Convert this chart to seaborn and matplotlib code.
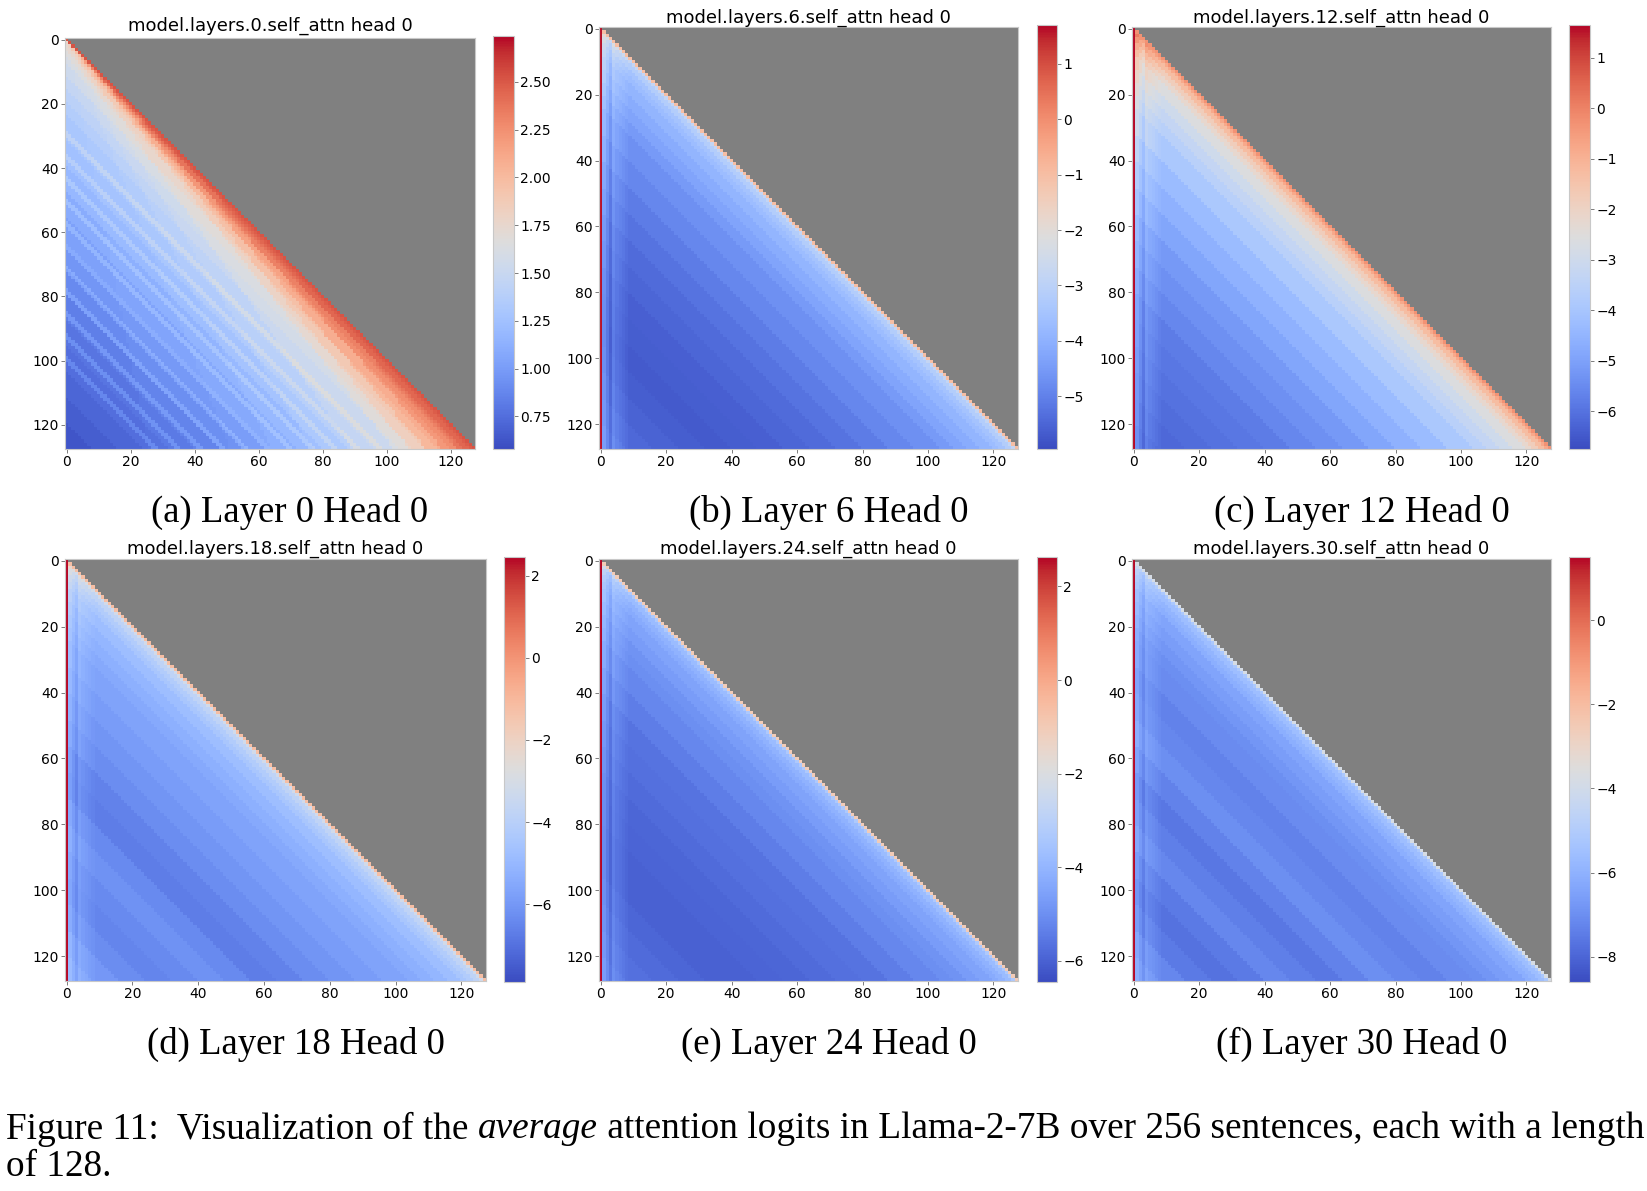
import numpy as np
import pandas as pd
import seaborn as sns
import matplotlib.pyplot as plt

SEQ_LEN = 128
layers = [0, 6, 12, 18, 24, 30]
letters = ['a', 'b', 'c', 'd', 'e', 'f']

# start of each query-key distance bin (row index minus column index)
dist_bins = [0, 1, 2, 4, 6, 8, 12, 16, 20, 24, 32, 40, 48, 56, 64, 72, 80, 88, 96, 104, 112, 120]

# average logit per distance bin
logits_l0 = [1.80, 1.76, 1.72, 1.66, 1.60, 1.54, 1.47, 1.41, 1.36, 1.30, 1.25,
             1.18, 1.10, 1.03, 0.96, 0.90, 0.84, 0.79, 0.75, 0.71, 0.67, 0.63]
logits_l6 = [-1.0, -2.8, -3.2, -3.5, -3.7, -3.9, -4.1, -4.3, -4.5, -4.7, -4.9,
             -5.1, -5.25, -5.4, -5.5, -5.6, -5.65, -5.7, -5.65, -5.55, -5.45, -5.35]
logits_l12 = [-0.3, -0.8, -1.3, -1.8, -2.2, -2.6, -3.0, -3.3, -3.6, -3.9, -4.3,
              -4.6, -4.9, -5.2, -5.4, -5.6, -5.8, -5.9, -6.0, -6.1, -6.2, -6.3]
logits_l18 = [-1.2, -3.2, -3.8, -4.2, -4.5, -4.8, -5.1, -5.3, -5.5, -5.7, -5.9,
              -6.1, -6.3, -6.6, -6.7, -6.4, -6.2, -6.4, -6.5, -6.3, -6.0, -5.8]
logits_l24 = [-1.0, -3.3, -3.8, -4.1, -4.3, -4.5, -4.7, -4.9, -5.0, -5.2, -5.4,
              -5.6, -5.7, -5.8, -5.9, -5.95, -6.0, -6.0, -5.9, -5.8, -5.7, -5.6]
logits_l30 = [-3.8, -5.2, -5.6, -5.9, -6.1, -6.4, -6.6, -6.8, -7.0, -7.1, -7.3,
              -7.2, -7.0, -7.3, -7.6, -7.4, -7.2, -7.5, -7.7, -7.5, -7.2, -7.0]
profiles = [logits_l0, logits_l6, logits_l12, logits_l18, logits_l24, logits_l30]

# layer 0: extra logit by relative distance (distance / query position)
rel_bins = [0, 0.04, 0.08, 0.12, 0.16, 0.2, 0.3, 0.4, 0.5, 0.6, 0.8]
rel_boost_l0 = [0.72, 0.66, 0.55, 0.42, 0.32, 0.22, 0.14, 0.09, 0.05, 0.02, 0.0]
# layer 0: distances of the light diagonal stripes
stripe_dist_l0 = [29, 30, 36, 37, 43, 44, 50, 51, 57, 58, 64, 65, 71, 72,
                  78, 79, 85, 86, 92, 93, 99, 100]
stripe_boost_l0 = 0.13

# logit of the first token (attention sink column)
sink_logit = [None, 1.6, 1.6, 2.4, 2.6, 1.45]

# offset of the columns right after the sink (keys 1..8)
shift_l0 = [0, 0, 0, 0, 0, 0, 0, 0]
shift_late = [0.9, 0.5, 0.1, 0.6, 0.4, 0.3, 0.2, 0.1]
col_shift = [shift_l0, shift_late, shift_late, shift_late, shift_late, shift_late]

vmins = [0.58, -5.95, -6.75, -7.9, -6.45, -8.6]
vmaxs = [2.74, 1.70, 1.65, 2.46, 2.63, 1.50]
cbar_ticks = [[0.75, 1.00, 1.25, 1.50, 1.75, 2.00, 2.25, 2.50],
              [1, 0, -1, -2, -3, -4, -5],
              [1, 0, -1, -2, -3, -4, -5, -6],
              [2, 0, -2, -4, -6],
              [2, 0, -2, -4, -6],
              [0, -2, -4, -6, -8]]
axis_ticks = [0, 20, 40, 60, 80, 100, 120]

W, H = 1647, 1191
fig = plt.figure(figsize=(W / 100, H / 100), dpi=100)


def box(x0, y0, x1, y1):
    return [x0 / W, 1 - y1 / H, (x1 - x0) / W, (y1 - y0) / H]


heat_boxes = [(65, 38, 475, 449), (599, 27, 1018, 449), (1132, 27, 1551, 449),
              (65, 559, 486, 981), (599, 559, 1018, 981), (1132, 559, 1551, 981)]
cbar_boxes = [(493, 36, 514, 449), (1037, 25, 1057, 449), (1569, 25, 1590, 449),
              (504, 557, 525, 982), (1037, 557, 1057, 982), (1569, 557, 1590, 982)]
title_y = [26, 18, 18, 549, 549, 549]
caption_y = [512, 512, 512, 1044, 1044, 1044]

ii, jj = np.indices((SEQ_LEN, SEQ_LEN))
dist = ii - jj
widths = np.diff(dist_bins + [SEQ_LEN])
rel = np.clip(dist, 0, None) / np.maximum(ii, 1)
rel_idx = np.clip(np.searchsorted(rel_bins, rel, side='right') - 1, 0, len(rel_bins) - 1)

for k in range(6):
    prof = np.repeat(profiles[k], widths)
    mat = np.where(dist >= 0, prof[np.clip(dist, 0, None)], np.nan)
    shift = np.zeros(SEQ_LEN)
    shift[1:1 + len(col_shift[k])] = col_shift[k]
    mat = mat + np.where(dist > 0, shift[jj], 0)
    if k == 0:
        mat = mat + np.array(rel_boost_l0)[rel_idx]
        mat = mat + np.where(np.isin(dist, stripe_dist_l0), stripe_boost_l0, 0)
    if sink_logit[k] is not None:
        mat[:, 0] = sink_logit[k]
    df = pd.DataFrame(mat)

    ax = fig.add_axes(box(*heat_boxes[k]))
    cax = fig.add_axes(box(*cbar_boxes[k]))
    sns.heatmap(df, mask=dist < 0, cmap='coolwarm', vmin=vmins[k], vmax=vmaxs[k],
                ax=ax, cbar_ax=cax, xticklabels=False, yticklabels=False)
    ax.set_facecolor('#808080')
    ax.set_xlabel('')
    ax.set_ylabel('')
    pos = np.array(axis_ticks) + 0.5
    ax.set_xticks(pos)
    ax.set_xticklabels(axis_ticks, rotation=0)
    ax.set_yticks(pos)
    ax.set_yticklabels(axis_ticks, rotation=0)
    ax.tick_params(labelsize=10, length=3, width=0.6, color='#666666', pad=1.5)
    for sp in ax.spines.values():
        sp.set_visible(True)
        sp.set_color('#c8c8c8')
        sp.set_linewidth(0.8)

    cb = ax.collections[0].colorbar
    cb.set_ticks(cbar_ticks[k])
    if k == 0:
        cb.set_ticklabels([f'{t:.2f}' for t in cbar_ticks[k]])
    cb.ax.tick_params(labelsize=10, length=3, width=0.6, color='#666666', pad=1.5)
    cb.outline.set_visible(True)
    cb.outline.set_linewidth(0.8)
    cb.outline.set_edgecolor('#c8c8c8')

    x0, _, x1, _ = heat_boxes[k]
    fig.text((x0 + x1) / 2 / W, 1 - title_y[k] / H,
             f'model.layers.{layers[k]}.self_attn head 0',
             ha='center', va='center', fontsize=13, family='DejaVu Sans')
    fig.text((x0 + x1 + 40) / 2 / W, 1 - caption_y[k] / H,
             f'({letters[k]}) Layer {layers[k]} Head 0',
             ha='center', va='center', fontsize=26.5, family='Liberation Serif')

# figure caption, sized to span the page width
runs = [('Figure 11:  Visualization of the ', 'normal'), ('average', 'italic'),
        (' attention logits in Llama-2-7B over 256 sentences, each with a length', 'normal')]
renderer = fig.canvas.get_renderer()
probe = fig.text(0, 0, ''.join(r[0] for r in runs), fontsize=24, family='Liberation Serif')
size = 24 * 1633 / probe.get_window_extent(renderer).width
probe.remove()

x = 6
for s, style in runs:
    t = fig.text(x / W, 1 - 1129 / H, s, ha='left', va='center', fontsize=size,
                 family='Liberation Serif', style=style)
    x += t.get_window_extent(renderer).width
fig.text(6 / W, 1 - 1167 / H, 'of 128.', ha='left', va='center', fontsize=size,
         family='Liberation Serif')

fig.savefig('out.png', dpi=100)
